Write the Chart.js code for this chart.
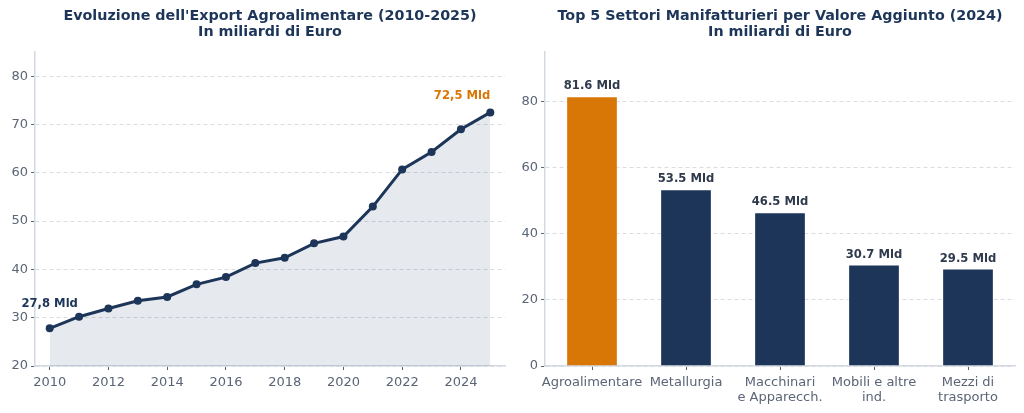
<!DOCTYPE html>
<html>
<head>
<meta charset="utf-8">
<script src="https://cdn.jsdelivr.net/npm/chart.js@4/dist/chart.umd.min.js"></script>
<style>
  html, body { margin: 0; padding: 0; background: #fff; }
  .wrap { position: absolute; top: 0; width: 512px; height: 413px; }
  #left { left: 0; }
  #right { left: 512px; }
</style>
</head>
<body>
<div class="wrap" id="left"><canvas id="exportChart" width="512" height="413"></canvas></div>
<div class="wrap" id="right"><canvas id="sectorChart" width="512" height="413"></canvas></div>
<script>
const years = [2010, 2011, 2012, 2013, 2014, 2015, 2016, 2017, 2018, 2019, 2020, 2021, 2022, 2023, 2024, 2025];
const exportValues = [27.8, 30.2, 31.9, 33.5, 34.3, 36.9, 38.4, 41.3, 42.4, 45.4, 46.8, 53.0, 60.7, 64.3, 69.0, 72.5];
const yearTicks = [2010, 2012, 2014, 2016, 2018, 2020, 2022, 2024];
const exportTicks = [20, 30, 40, 50, 60, 70, 80];

const sectors = ['Agroalimentare', 'Metallurgia', ['Macchinari', 'e Apparecch.'], ['Mobili e altre', 'ind.'], ['Mezzi di', 'trasporto']];
const sectorValues = [81.6, 53.5, 46.5, 30.7, 29.5];
const sectorTicks = [0, 20, 40, 60, 80];

const NAVY = '#1c3559';
const ORANGE = '#d97706';
const TICK = '#5b6576';
const AXIS = '#d3d9e3';
const GRID = '#d9dce1';
const FONT = '"DejaVu Sans", sans-serif';

Chart.defaults.font.family = FONT;
Chart.defaults.color = TICK;

function titlePlugin(lines) {
    return {
        id: 'twoLineTitle',
        afterDraw(chart) {
            const c = chart.ctx;
            const a = chart.chartArea;
            const cx = (a.left + a.right) / 2;
            c.save();
            c.fillStyle = NAVY;
            c.font = 'bold 14.3px ' + FONT;
            c.textAlign = 'center';
            c.textBaseline = 'middle';
            c.fillText(lines[0], cx, 16);
            c.fillText(lines[1], cx, 32);
            c.restore();
        }
    };
}

function fixTicks(list) {
    return scale => { scale.ticks = list.map(v => ({ value: v })); };
}

const lineLabels = {
    id: 'lineLabels',
    afterDatasetsDraw(chart) {
        const pts = chart.getDatasetMeta(0).data;
        const c = chart.ctx;
        c.save();
        c.font = 'bold 11.6px ' + FONT;
        c.textBaseline = 'middle';
        const first = pts[0];
        c.fillStyle = NAVY;
        c.textAlign = 'center';
        c.fillText(exportValues[0].toFixed(1).replace('.', ',') + ' Mld', first.x, first.y - 24);
        const last = pts[pts.length - 1];
        c.fillStyle = ORANGE;
        c.textAlign = 'right';
        c.fillText(exportValues[exportValues.length - 1].toFixed(1).replace('.', ',') + ' Mld', last.x, last.y - 16);
        c.restore();
    }
};

new Chart(document.getElementById('exportChart'), {
    type: 'line',
    data: {
        datasets: [{
            data: years.map((y, i) => ({ x: y, y: exportValues[i] })),
            borderColor: NAVY,
            borderWidth: 3,
            backgroundColor: 'rgba(28, 53, 89, 0.11)',
            fill: 'start',
            pointRadius: 4,
            pointBorderWidth: 0,
            pointBackgroundColor: NAVY,
            tension: 0
        }]
    },
    options: {
        responsive: false,
        animation: false,
        layout: { padding: { top: 52, right: 7 } },
        plugins: { legend: { display: false }, tooltip: { enabled: false } },
        scales: {
            x: {
                type: 'linear',
                min: 2009.5,
                max: 2025.5,
                afterBuildTicks: fixTicks(yearTicks),
                afterFit: s => { s.height = 47; },
                grid: { drawOnChartArea: false, tickLength: 4, tickColor: TICK },
                border: { color: AXIS, width: 1.5 },
                ticks: { font: { size: 13 }, color: TICK, padding: 5, callback: v => String(v), maxRotation: 0 }
            },
            y: {
                min: 20,
                max: 85,
                afterBuildTicks: fixTicks(exportTicks),
                afterFit: s => { s.width = 35; },
                grid: { color: GRID, tickLength: 4, tickColor: TICK, tickBorderDash: [] },
                border: { color: AXIS, width: 1.5, dash: [4, 3] },
                ticks: { font: { size: 13 }, color: TICK, padding: 3 }
            }
        }
    },
    plugins: [titlePlugin(["Evoluzione dell'Export Agroalimentare (2010-2025)", 'In miliardi di Euro']), lineLabels]
});

const barLabels = {
    id: 'barLabels',
    afterDatasetsDraw(chart) {
        const bars = chart.getDatasetMeta(0).data;
        const c = chart.ctx;
        c.save();
        c.font = 'bold 11.6px ' + FONT;
        c.fillStyle = '#2f3a4d';
        c.textAlign = 'center';
        c.textBaseline = 'middle';
        bars.forEach((b, i) => {
            c.fillText(sectorValues[i].toFixed(1) + ' Mld', b.x, b.y - 10);
        });
        c.restore();
    }
};

new Chart(document.getElementById('sectorChart'), {
    type: 'bar',
    data: {
        labels: sectors,
        datasets: [{
            data: sectorValues,
            backgroundColor: sectorValues.map((v, i) => i === 0 ? ORANGE : NAVY),
            borderColor: 'rgba(255,255,255,0.5)',
            borderWidth: 1,
            barPercentage: 0.55,
            categoryPercentage: 1
        }]
    },
    options: {
        responsive: false,
        animation: false,
        layout: { padding: { top: 52, right: 9 } },
        plugins: { legend: { display: false }, tooltip: { enabled: false } },
        scales: {
            x: {
                afterFit: s => { s.height = 47; },
                grid: { drawOnChartArea: false, offset: false, tickLength: 4, tickColor: TICK },
                border: { color: AXIS, width: 1.5 },
                ticks: { font: { size: 13, lineHeight: 1.15 }, color: TICK, padding: 5, maxRotation: 0, autoSkip: false }
            },
            y: {
                min: 0,
                max: 95,
                afterBuildTicks: fixTicks(sectorTicks),
                afterFit: s => { s.width = 33; },
                grid: { color: GRID, tickLength: 4, tickColor: TICK, tickBorderDash: [] },
                border: { color: AXIS, width: 1.5, dash: [4, 3] },
                ticks: { font: { size: 13 }, color: TICK, padding: 3 }
            }
        }
    },
    plugins: [titlePlugin(['Top 5 Settori Manifatturieri per Valore Aggiunto (2024)', 'In miliardi di Euro']), barLabels]
});
</script>
</body>
</html>
